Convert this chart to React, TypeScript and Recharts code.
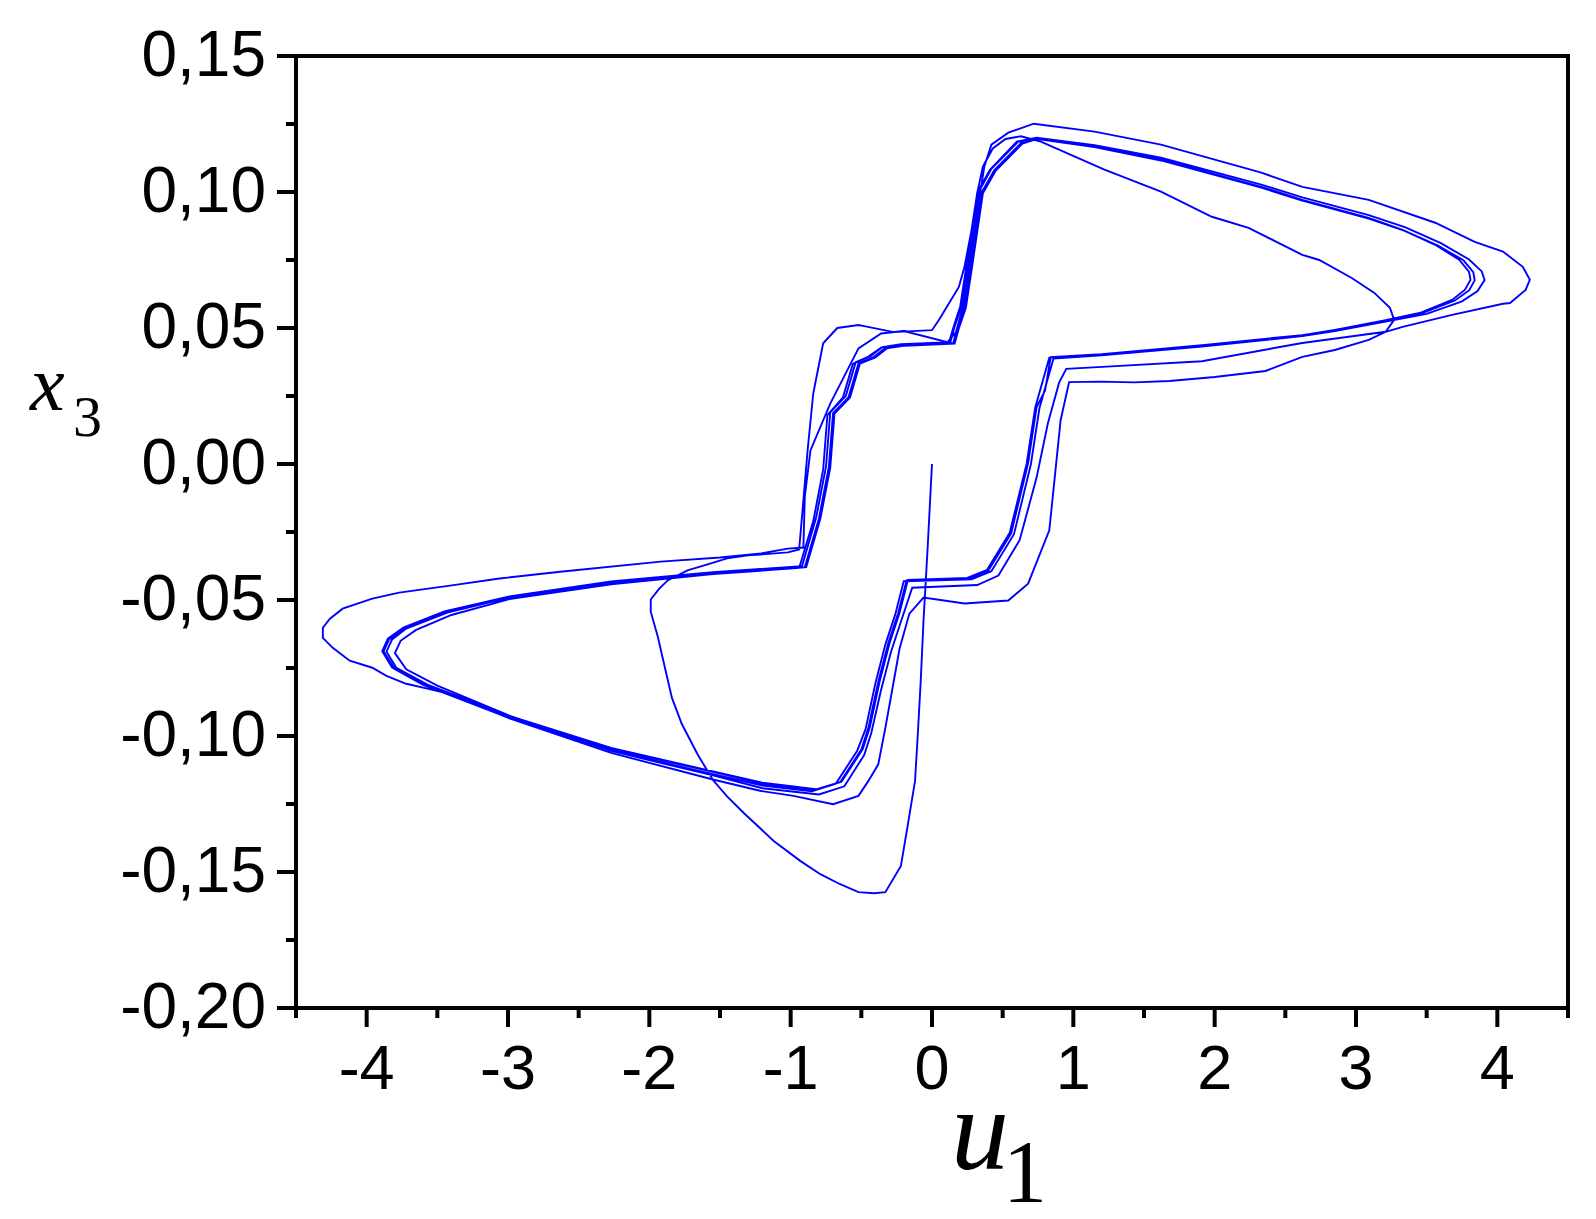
import React from 'react';
import { ComposedChart, Line, XAxis, YAxis, ReferenceArea } from 'recharts';

type Pt = [number, number];

// trajectory pieces, in time order: [u1, x3]
const launchPath: Pt[] = [
  [0, 0], [-0.03, -0.03], [-0.06, -0.0576], [-0.08, -0.08], [-0.1, -0.099], [-0.12, -0.1165],
  [-0.17, -0.1323], [-0.22, -0.1478], [-0.33, -0.1574], [-0.41, -0.1578], [-0.52, -0.1574],
  [-0.65, -0.1545], [-0.79, -0.1508], [-0.93, -0.146], [-1.12, -0.1386], [-1.21, -0.1342],
  [-1.33, -0.1284], [-1.45, -0.1222], [-1.55, -0.1162], [-1.66, -0.1066], [-1.77, -0.0956],
  [-1.84, -0.086], [-1.89, -0.0748], [-1.94, -0.0635], [-1.99, -0.0543], [-1.99, -0.0498],
  [-1.93, -0.0458], [-1.87, -0.0428], [-1.73, -0.0391], [-1.57, -0.0366], [-1.45, -0.0347],
  [-1.3, -0.0336], [-1.02, -0.0325], [-0.94, -0.0314],
];

const firstRise: Pt[] = [
  [-0.91, -0.0134], [-0.88, 0.0051], [-0.84, 0.026], [-0.77, 0.0444], [-0.67, 0.05], [-0.52, 0.0511],
  [-0.48, 0.0507], [-0.27, 0.0485], [0.0, 0.0492], [0.05, 0.053], [0.19, 0.0651], [0.23, 0.0725],
  [0.28, 0.0861], [0.32, 0.0997], [0.36, 0.1093], [0.43, 0.116], [0.52, 0.1195], [0.63, 0.1205],
];

const firstRightSweep: Pt[] = [
  [0.77, 0.1185], [1.22, 0.1082], [1.62, 0.1001], [1.98, 0.0909], [2.24, 0.0868], [2.62, 0.0769],
  [2.74, 0.075], [2.97, 0.0684], [3.13, 0.0629], [3.24, 0.0574], [3.27, 0.053], [3.21, 0.0486],
  [3.09, 0.0456], [2.85, 0.0419], [2.62, 0.0394], [2.36, 0.0342], [2.0, 0.032], [1.68, 0.0305],
  [1.43, 0.03], [1.2, 0.0303], [0.97, 0.0301],
];

const firstDescent: Pt[] = [
  [0.91, 0.0161], [0.83, -0.0244], [0.68, -0.044], [0.54, -0.0502], [0.23, -0.0513], [-0.06, -0.0491],
  [-0.16, -0.055], [-0.23, -0.068], [-0.27, -0.0797], [-0.33, -0.097], [-0.38, -0.1104],
  [-0.45, -0.1165], [-0.52, -0.122], [-0.7, -0.1251], [-0.98, -0.122], [-1.21, -0.1202],
  [-1.55, -0.116], [-2.27, -0.1062], [-2.99, -0.0935],
];

const outerLeftLoop: Pt[] = [
  [-3.41, -0.0846], [-3.57, -0.0826], [-3.72, -0.0808], [-3.86, -0.0779], [-3.96, -0.0749],
  [-4.12, -0.0723], [-4.24, -0.0676], [-4.31, -0.0639], [-4.31, -0.0602], [-4.26, -0.0569],
  [-4.17, -0.0532], [-3.96, -0.0495], [-3.77, -0.0473], [-3.41, -0.0447], [-3.06, -0.0421],
  [-2.63, -0.0396], [-1.92, -0.0359], [-1.5, -0.0344], [-1.21, -0.0329], [-1.02, -0.0311],
  [-0.91, -0.0307],
];

const secondRise: Pt[] = [
  [-0.9, -0.012], [-0.86, 0.005], [-0.72, 0.0222], [-0.52, 0.0425], [-0.36, 0.048], [-0.2, 0.0489],
  [0.11, 0.0448], [0.17, 0.0485], [0.22, 0.058], [0.3, 0.086], [0.37, 0.1093], [0.42, 0.1174],
  [0.54, 0.1218],
];

const outerRightLoop: Pt[] = [
  [0.72, 0.1251], [1.15, 0.1222], [1.62, 0.1174], [2.33, 0.1071], [2.62, 0.1019], [3.09, 0.0971],
  [3.56, 0.0887], [3.84, 0.0817], [4.04, 0.0781], [4.18, 0.0725], [4.23, 0.0677], [4.2, 0.064],
  [4.09, 0.0592], [4.04, 0.0589], [3.68, 0.0548], [3.33, 0.0504], [3.21, 0.0486], [2.62, 0.0445],
  [1.91, 0.0378], [1.3, 0.036], [0.95, 0.035],
];

const secondDescent: Pt[] = [
  [0.9, 0.03], [0.82, 0.015], [0.74, -0.005], [0.62, -0.028], [0.47, -0.041], [0.32, -0.0445],
  [-0.14, -0.0455], [-0.22, -0.058], [-0.29, -0.069], [-0.36, -0.083], [-0.43, -0.099],
  [-0.48, -0.107], [-0.62, -0.1185], [-0.8, -0.1215], [-1.2, -0.1192], [-1.55, -0.1145],
  [-2.27, -0.1055], [-2.99, -0.0925], [-3.5, -0.0815], [-3.72, -0.0755], [-3.8, -0.0695],
  [-3.76, -0.065], [-3.65, -0.061], [-3.4, -0.0555], [-2.99, -0.0497], [-2.27, -0.0442],
  [-1.55, -0.0405], [-0.94, -0.0382], [-0.84, -0.021], [-0.77, -0.002], [-0.74, 0.018],
  [-0.63, 0.0245], [-0.56, 0.0368], [-0.45, 0.0395], [-0.36, 0.0428], [-0.24, 0.0438],
  [0.12, 0.0446], [0.15, 0.05], [0.2, 0.058], [0.25, 0.075], [0.32, 0.0998], [0.41, 0.1082],
  [0.6, 0.1185],
];

const loopA: Pt[] = [
  [0.74, 0.12], [1.15, 0.1172], [1.62, 0.1126], [2.33, 0.1027], [2.62, 0.098], [3.09, 0.0915],
  [3.35, 0.087], [3.6, 0.0812], [3.8, 0.0752], [3.89, 0.0708], [3.91, 0.0676], [3.86, 0.0636],
  [3.75, 0.0598], [3.5, 0.0552], [3.21, 0.0524], [2.85, 0.0489], [2.62, 0.047], [1.91, 0.0432],
  [1.2, 0.04], [0.86, 0.0388], [0.76, 0.0205], [0.7, 0.0], [0.58, -0.0258], [0.42, -0.0394],
  [0.28, -0.0424], [-0.2, -0.0431], [-0.26, -0.0553], [-0.33, -0.0664], [-0.4, -0.0805],
  [-0.47, -0.0975], [-0.53, -0.1055], [-0.68, -0.1175], [-0.85, -0.1203], [-1.2, -0.1182],
  [-1.55, -0.114], [-2.27, -0.1054], [-2.99, -0.0934], [-3.6, -0.0812], [-3.82, -0.0748],
  [-3.89, -0.0688], [-3.85, -0.0642], [-3.74, -0.0601], [-3.45, -0.0542], [-2.99, -0.0487],
  [-2.27, -0.0432], [-1.55, -0.0398], [-0.92, -0.0376], [-0.82, -0.0198], [-0.75, -0.001],
  [-0.72, 0.019], [-0.61, 0.025], [-0.54, 0.0374], [-0.43, 0.0398], [-0.35, 0.043], [-0.22, 0.044],
  [0.13, 0.0448], [0.16, 0.0505], [0.21, 0.0582], [0.26, 0.0755], [0.33, 0.1], [0.42, 0.1085],
  [0.61, 0.1185],
];

const loopB: Pt[] = [
  [0.76, 0.1194], [1.15, 0.1165], [1.62, 0.1116], [2.33, 0.1016], [2.62, 0.0968], [3.09, 0.0902],
  [3.34, 0.0858], [3.58, 0.0803], [3.76, 0.0749], [3.83, 0.0705], [3.84, 0.0675], [3.8, 0.0638],
  [3.7, 0.0601], [3.46, 0.0553], [3.21, 0.0527], [2.85, 0.0491], [2.62, 0.0472], [1.91, 0.0435],
  [1.2, 0.0402], [0.83, 0.0391], [0.73, 0.0207], [0.67, 0.0002], [0.55, -0.0253], [0.39, -0.0389],
  [0.25, -0.0419], [-0.17, -0.0426], [-0.23, -0.0548], [-0.3, -0.0658], [-0.37, -0.0798],
  [-0.44, -0.0968], [-0.49, -0.1048], [-0.64, -0.1168], [-0.82, -0.1196], [-1.2, -0.1172],
  [-1.55, -0.113], [-2.27, -0.1044], [-2.99, -0.0926], [-3.58, -0.0809], [-3.81, -0.0746],
  [-3.88, -0.0689], [-3.84, -0.0644], [-3.73, -0.0604], [-3.44, -0.0545], [-2.99, -0.049],
  [-2.27, -0.0435], [-1.55, -0.0401], [-0.89, -0.0379], [-0.79, -0.0201], [-0.72, -0.0014],
  [-0.69, 0.0185], [-0.58, 0.0244], [-0.51, 0.0369], [-0.4, 0.0392], [-0.32, 0.0425], [-0.19, 0.0435],
  [0.16, 0.0443], [0.19, 0.0498], [0.24, 0.0575], [0.29, 0.0748], [0.36, 0.0995], [0.45, 0.1078],
  [0.64, 0.1178],
];

const loopC: Pt[] = [
  [0.75, 0.1196], [1.15, 0.1167], [1.62, 0.1119], [2.33, 0.1019], [2.62, 0.0971], [3.09, 0.0905],
  [3.33, 0.0861], [3.56, 0.0806], [3.73, 0.0751], [3.8, 0.0706], [3.81, 0.0677], [3.77, 0.064],
  [3.68, 0.0603], [3.45, 0.0555], [3.21, 0.0529], [2.85, 0.0493], [2.62, 0.0474], [1.91, 0.0437],
  [1.2, 0.0404], [0.84, 0.0393], [0.8, 0.027], [0.74, 0.0209], [0.68, 0.0003], [0.56, -0.0255],
  [0.4, -0.0391], [0.26, -0.0421], [-0.18, -0.0428], [-0.24, -0.055], [-0.31, -0.066], [-0.38, -0.08],
  [-0.45, -0.097], [-0.5, -0.105], [-0.65, -0.117], [-0.83, -0.1198], [-1.2, -0.1175], [-1.55, -0.1132],
  [-2.27, -0.1047], [-2.99, -0.0929], [-3.57, -0.0811], [-3.79, -0.0749], [-3.86, -0.069],
  [-3.82, -0.0645], [-3.72, -0.0605], [-3.43, -0.0546], [-2.99, -0.0491], [-2.27, -0.0436],
  [-1.55, -0.0402], [-0.9, -0.038], [-0.8, -0.02], [-0.73, -0.0012], [-0.7, 0.0187], [-0.59, 0.0246],
  [-0.52, 0.0371], [-0.41, 0.0394], [-0.33, 0.0427], [-0.2, 0.0437], [0.15, 0.0445], [0.18, 0.05],
  [0.23, 0.0577], [0.28, 0.075], [0.35, 0.0997], [0.44, 0.108], [0.63, 0.118], [0.75, 0.1196],
];

const xTicks = [-4.5, -4, -3.5, -3, -2.5, -2, -1.5, -1, -0.5, 0, 0.5, 1, 1.5, 2, 2.5, 3, 3.5, 4, 4.5];
const yTicks = [-0.2, -0.175, -0.15, -0.125, -0.1, -0.075, -0.05, -0.025, 0, 0.025, 0.05, 0.075, 0.1, 0.125, 0.15];

const trajectory = [
  launchPath, firstRise, firstRightSweep, firstDescent, outerLeftLoop, secondRise,
  outerRightLoop, secondDescent, loopA, loopB, loopC,
].flat().map(([u, x3]) => ({ u, x3 }));

// plot box edges in page pixels
const PLOT_LEFT = 296;
const PLOT_BOTTOM = 1008;
const SANS = "'Liberation Sans', Arial, Helvetica, sans-serif";
const SERIF = "'Liberation Serif', 'Times New Roman', serif";

const XTick = (props: any) => {
  const { x, payload } = props;
  const v = payload.value;
  const major = Number.isInteger(v);
  return (
    <g>
      <line x1={x} x2={x} y1={PLOT_BOTTOM} y2={major ? 1027 : 1018} stroke="#000" strokeWidth={4} />
      {major && (
        <text x={x} y={1089} textAnchor="middle" fontSize={63} fontFamily={SANS} fill="#000">
          {String(v)}
        </text>
      )}
    </g>
  );
};

const YTick = (props: any) => {
  const { y, payload } = props;
  const v = payload.value;
  const major = Math.abs(v * 20 - Math.round(v * 20)) < 1e-6;
  return (
    <g>
      <line x1={PLOT_LEFT} x2={major ? 277 : 286} y1={y} y2={y} stroke="#000" strokeWidth={4} />
      {major && (
        <text x={266} y={y + 20} textAnchor="end" fontSize={64} fontFamily={SANS} fill="#000">
          {v.toFixed(2).replace('.', ',')}
        </text>
      )}
    </g>
  );
};

export default function App() {
  return (
    <div style={{ position: 'absolute', left: 0, top: 0, width: 1596, height: 1219, background: '#fff' }}>
      <ComposedChart
        width={1596}
        height={1219}
        data={trajectory}
        margin={{ top: 56, right: 28, bottom: 0, left: 0 }}
      >
        <XAxis
          type="number"
          dataKey="u"
          domain={[-4.5, 4.5]}
          ticks={xTicks}
          interval={0}
          height={211}
          tickLine={false}
          axisLine={false}
          tickSize={0}
          tick={<XTick />}
          allowDataOverflow
        />
        <YAxis
          type="number"
          domain={[-0.2, 0.15]}
          ticks={yTicks}
          interval={0}
          width={296}
          tickLine={false}
          axisLine={false}
          tickSize={0}
          tick={<YTick />}
          allowDataOverflow
        />
        <ReferenceArea x1={-4.5} x2={4.5} y1={-0.2} y2={0.15} fill="none" fillOpacity={0} stroke="#000" strokeWidth={4} />
        <Line
          type="linear"
          dataKey="x3"
          stroke="#0000ff"
          strokeWidth={1.9}
          dot={false}
          isAnimationActive={false}
        />
      </ComposedChart>
      <svg width={1596} height={1219} style={{ position: 'absolute', left: 0, top: 0, pointerEvents: 'none' }}>
        <text x={951} y={1169} fontSize={116} fontStyle="italic" fontFamily={SERIF} fill="#000">u</text>
        <text x={1003} y={1201} fontSize={88} fontFamily={SERIF} fill="#000">1</text>
        <text x={30} y={410} fontSize={78} fontStyle="italic" fontFamily={SERIF} fill="#000">x</text>
        <text x={73} y={436} fontSize={58} fontFamily={SERIF} fill="#000">3</text>
      </svg>
    </div>
  );
}
